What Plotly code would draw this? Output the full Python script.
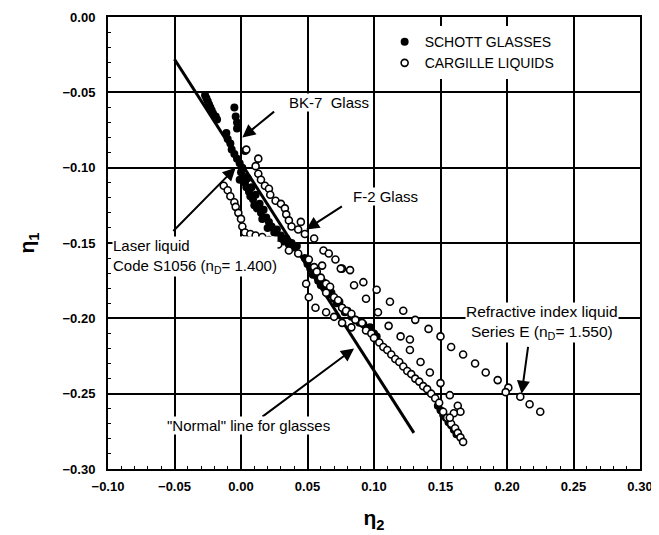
import plotly.graph_objects as go

# Schott glasses (filled dots)
schott_eta2 = [-0.027, -0.026, -0.025, -0.024, -0.023, -0.022, -0.021, -0.019, -0.018,
               -0.005, -0.004, -0.003, -0.003,
               -0.011, -0.010, -0.008, -0.007, -0.005, -0.003, -0.001, 0.001, 0.003,
               0.000, 0.002, -0.001, 0.003, 0.005, 0.004, 0.006, 0.008, 0.007, 0.009,
               0.011, 0.010, 0.012, 0.014, 0.015, 0.017, 0.016, 0.019, 0.021, 0.020,
               0.023, 0.025, 0.027, 0.028, 0.030, 0.032, 0.034, 0.036, 0.038, 0.040, 0.042,
               0.048, 0.050, 0.052, 0.054, 0.056, 0.058, 0.060, 0.062, 0.064, 0.066,
               0.068, 0.070, 0.072, 0.074, 0.076, 0.078, 0.080, 0.083, 0.086, 0.089,
               0.092, 0.094, 0.097, 0.100, 0.102,
               0.148, 0.150, 0.152, 0.154, 0.156, 0.158, 0.160, 0.162]
schott_eta1 = [-0.052, -0.054, -0.056, -0.058, -0.060, -0.062, -0.064, -0.066, -0.068,
               -0.060, -0.066, -0.070, -0.074,
               -0.077, -0.081, -0.084, -0.088, -0.091, -0.094, -0.097, -0.100, -0.089,
               -0.103, -0.106, -0.108, -0.110, -0.107, -0.113, -0.116, -0.113, -0.119, -0.121,
               -0.118, -0.125, -0.127, -0.124, -0.130, -0.128, -0.134, -0.133, -0.136, -0.140,
               -0.139, -0.143, -0.141, -0.146, -0.145, -0.149, -0.147, -0.151, -0.150, -0.153, -0.152,
               -0.160, -0.164, -0.167, -0.171, -0.170, -0.175, -0.178, -0.176, -0.181, -0.184,
               -0.183, -0.187, -0.190, -0.189, -0.193, -0.196, -0.195, -0.199, -0.201, -0.203,
               -0.204, -0.207, -0.206, -0.210, -0.212,
               -0.258, -0.261, -0.264, -0.266, -0.269, -0.271, -0.274, -0.277]

# Cargille liquids (open circles)
cargille_eta2 = [0.004, 0.013, 0.011, 0.013, 0.015, 0.018, 0.021, 0.022, 0.026, 0.030,
                 0.033, 0.034, 0.036, 0.038, 0.045, 0.043, 0.048, 0.055,
                 0.051, 0.055, 0.057, 0.061, 0.060, 0.064, 0.067, 0.064, 0.070, 0.073,
                 0.076, 0.079, 0.083, 0.086, 0.091, 0.094, 0.098,
                 0.100, 0.104, 0.107, 0.110, 0.113, 0.116, 0.119, 0.122, 0.125, 0.128,
                 0.131, 0.134, 0.137, 0.140, 0.143, 0.146, 0.149,
                 0.152, 0.155, 0.158, 0.161, 0.163, 0.165, 0.167,
                 0.163, 0.165, 0.160, 0.157,
                 -0.013, -0.010, -0.008, -0.005, -0.004, -0.002, 0.000, 0.001, 0.003,
                 0.007, 0.011, 0.016, 0.021, 0.026, 0.028, 0.036, 0.043,
                 0.049, 0.051, 0.056, 0.064, 0.070, 0.076, 0.083,
                 0.062, 0.066, 0.071, 0.076, 0.082, 0.092, 0.102, 0.112, 0.122, 0.131,
                 0.141, 0.150, 0.158, 0.167, 0.176, 0.184, 0.193, 0.201, 0.199, 0.210,
                 0.217, 0.225,
                 0.075, 0.085, 0.094, 0.103, 0.111, 0.120, 0.127, 0.127, 0.135, 0.142,
                 0.150, 0.157]
cargille_eta1 = [-0.088, -0.094, -0.099, -0.104, -0.108, -0.112, -0.114, -0.118, -0.122, -0.124,
                 -0.127, -0.131, -0.135, -0.139, -0.136, -0.141, -0.144, -0.147,
                 -0.161, -0.166, -0.169, -0.165, -0.173, -0.177, -0.179, -0.183, -0.186, -0.188,
                 -0.193, -0.195, -0.197, -0.201, -0.203, -0.208, -0.210,
                 -0.213, -0.216, -0.219, -0.221, -0.224, -0.227, -0.229, -0.232, -0.235, -0.237,
                 -0.240, -0.242, -0.245, -0.247, -0.250, -0.253, -0.256,
                 -0.262, -0.266, -0.270, -0.273, -0.276, -0.279, -0.282,
                 -0.258, -0.262, -0.263, -0.266,
                 -0.112, -0.115, -0.119, -0.123, -0.126, -0.130, -0.134, -0.139, -0.143,
                 -0.144, -0.145, -0.146, -0.148, -0.150, -0.151, -0.155, -0.157,
                 -0.177, -0.186, -0.193, -0.196, -0.199, -0.203, -0.206,
                 -0.155, -0.157, -0.161, -0.167, -0.168, -0.176, -0.181, -0.189, -0.195, -0.201,
                 -0.207, -0.212, -0.219, -0.224, -0.230, -0.236, -0.241, -0.246, -0.249, -0.252,
                 -0.257, -0.262,
                 -0.167, -0.178, -0.187, -0.196, -0.205, -0.212, -0.214, -0.221, -0.229, -0.236,
                 -0.243, -0.251]

# "Normal" line for glasses
normal_eta2 = [-0.050, 0.130]
normal_eta1 = [-0.028, -0.276]

font = "Liberation Sans, Arial, sans-serif"

fig = go.Figure()
fig.add_trace(go.Scatter(
    x=normal_eta2, y=normal_eta1, mode="lines",
    line=dict(color="black", width=3), showlegend=False, hoverinfo="skip",
))
fig.add_trace(go.Scatter(
    x=schott_eta2, y=schott_eta1, mode="markers", name="SCHOTT GLASSES",
    marker=dict(symbol="circle", size=8, color="black"),
))
fig.add_trace(go.Scatter(
    x=cargille_eta2, y=cargille_eta1, mode="markers", name="CARGILLE LIQUIDS",
    marker=dict(symbol="circle", size=7, color="white", line=dict(color="black", width=1.6)),
))

# arrows: tail (x, y) -> head (x, y)
arrows = [
    (0.026, -0.062, 0.001, -0.080),   # BK-7
    (0.077, -0.125, 0.049, -0.141),   # F-2
    (0.015, -0.266, 0.085, -0.220),   # normal line
    (-0.052, -0.143, -0.004, -0.100), # laser liquid
    (0.216, -0.218, 0.211, -0.250),   # series E
]
for ax, ay, hx, hy in arrows:
    fig.add_annotation(
        x=hx, y=hy, ax=ax, ay=ay, axref="x", ayref="y", xref="x", yref="y",
        text="", showarrow=True, arrowhead=2, arrowsize=1.3, arrowwidth=2,
        arrowcolor="black",
    )

labels = [
    ("BK-7  Glass", 0.066, -0.057, "center"),
    ("F-2 Glass", 0.109, -0.119, "center"),
    ('"Normal" line for glasses', 0.006, -0.271, "center"),
    ("Laser liquid<br>Code S1056 (n<sub>D</sub>= 1.400)", -0.097, -0.159, "left"),
    ("Refractive index liquid<br>Series E (n<sub>D</sub>= 1.550)", 0.226, -0.2025, "center"),
]
for txt, tx, ty, al in labels:
    fig.add_annotation(
        x=tx, y=ty, xref="x", yref="y", text=txt, showarrow=False,
        xanchor="left" if al == "left" else "center", align=al,
        bgcolor="white", borderpad=0,
        font=dict(family=font, size=15.5 if "Refractive" in txt else 15, color="black"),
    )

axis_common = dict(
    showline=True, linecolor="black", linewidth=2, mirror=True,
    showgrid=True, gridcolor="black", gridwidth=1.5, zeroline=False,
    ticks="inside", ticklen=6, tickwidth=1.5, tickcolor="black",
    minor=dict(ticks="inside", ticklen=3, tickwidth=1, tickcolor="black", showgrid=False),
    tickfont=dict(family=font, size=13, color="black", weight="bold"),
    automargin=False,
)

fig.update_xaxes(
    range=[-0.10, 0.30], dtick=0.05, tickformat=".2f", minor_dtick=0.01,
    ticklabelstandoff=4,
    title=dict(text="η<sub>2</sub>", font=dict(family=font, size=21, color="black", weight="bold"),
               standoff=18),
    **axis_common,
)
fig.update_yaxes(
    range=[-0.30, 0.0], dtick=0.05, tickformat=".2f", minor_dtick=0.01,
    ticklabelstandoff=8,
    title=dict(text="η<sub>1</sub>", font=dict(family=font, size=21, color="black", weight="bold"),
               standoff=22),
    **axis_common,
)

# the page body adds an 8 px offset, so the figure is sized to fit the window
fig.update_layout(
    width=651, height=527,
    margin=dict(l=100, r=19, t=9, b=66),
    plot_bgcolor="white", paper_bgcolor="white",
    legend=dict(
        x=0.52, y=0.98, xanchor="left", yanchor="top",
        bgcolor="white", font=dict(family=font, size=14, color="black"),
        tracegroupgap=2,
    ),
)

fig.write_html("out.html")
